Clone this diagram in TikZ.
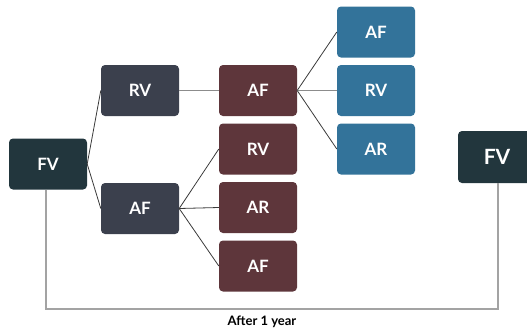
\documentclass[tikz,border=0pt]{standalone}
\usepackage{fontspec}
\setmainfont{Lato}
\definecolor{fvcol}{HTML}{22363D}
\definecolor{graycol}{HTML}{3B404D}
\definecolor{maroon}{HTML}{5E363B}
\definecolor{bluecol}{HTML}{33739A}
\definecolor{darkline}{HTML}{3A3A3A}
\definecolor{lightline}{HTML}{8C8C8C}
\tikzset{
  box/.style={rectangle, rounded corners=4pt, minimum width=78pt, minimum height=51pt, inner sep=0pt, text=white, font=\fontsize{17}{19}\selectfont\bfseries},
  diag/.style={draw=darkline, line width=0.8pt},
  horiz/.style={draw=lightline, line width=1.2pt},
  base/.style={draw=lightline!80, line width=1.2pt}
}
\begin{document}
\begin{tikzpicture}[x=1pt,y=-1pt]
\useasboundingbox (0,0) rectangle (527,330);
\clip (0,0) rectangle (527,330);
\node[box, fill=fvcol] (fv1) at (48,164) {FV};
\node[box, fill=graycol] (rv1) at (140,90.5) {RV};
\node[box, fill=graycol] (af1) at (140,208.5) {AF};
\node[box, fill=maroon] (af2) at (258,90.5) {AF};
\node[box, fill=maroon] (rv2) at (258,149) {RV};
\node[box, fill=maroon] (ar2) at (258,207.5) {AR};
\node[box, fill=maroon] (af3) at (258,266) {AF};
\node[box, fill=bluecol] (af4) at (376,32) {AF};
\node[box, fill=bluecol] (rv4) at (376,90.5) {RV};
\node[box, fill=bluecol] (ar4) at (376,149) {AR};
\node[box, fill=fvcol, minimum height=52pt, font=\fontsize{21}{23}\selectfont\bfseries] (fv2) at (497,157) {FV};
\node[font=\fontsize{13}{15}\selectfont\bfseries, text=black] (lbl) at (262,322) {After 1 year};
\coordinate (bl) at (46,309);
\coordinate (br) at (498,309);
\draw[diag] (fv1.east) -- (rv1.west);
\draw[diag] (fv1.east) -- (af1.west);
\draw[horiz] (rv1.east) -- (af2.west);
\draw[diag] (af1.east) -- (rv2.west);
\draw[diag] (af1.east) -- (ar2.west);
\draw[diag] (af1.east) -- (af3.west);
\draw[diag] (af2.east) -- (af4.west);
\draw[horiz] (af2.east) -- (rv4.west);
\draw[diag] (af2.east) -- (ar4.west);
\draw[base] (fv1.south -| bl) -- (bl) -- (br) -- (fv2.south -| br);
\end{tikzpicture}
\end{document}
